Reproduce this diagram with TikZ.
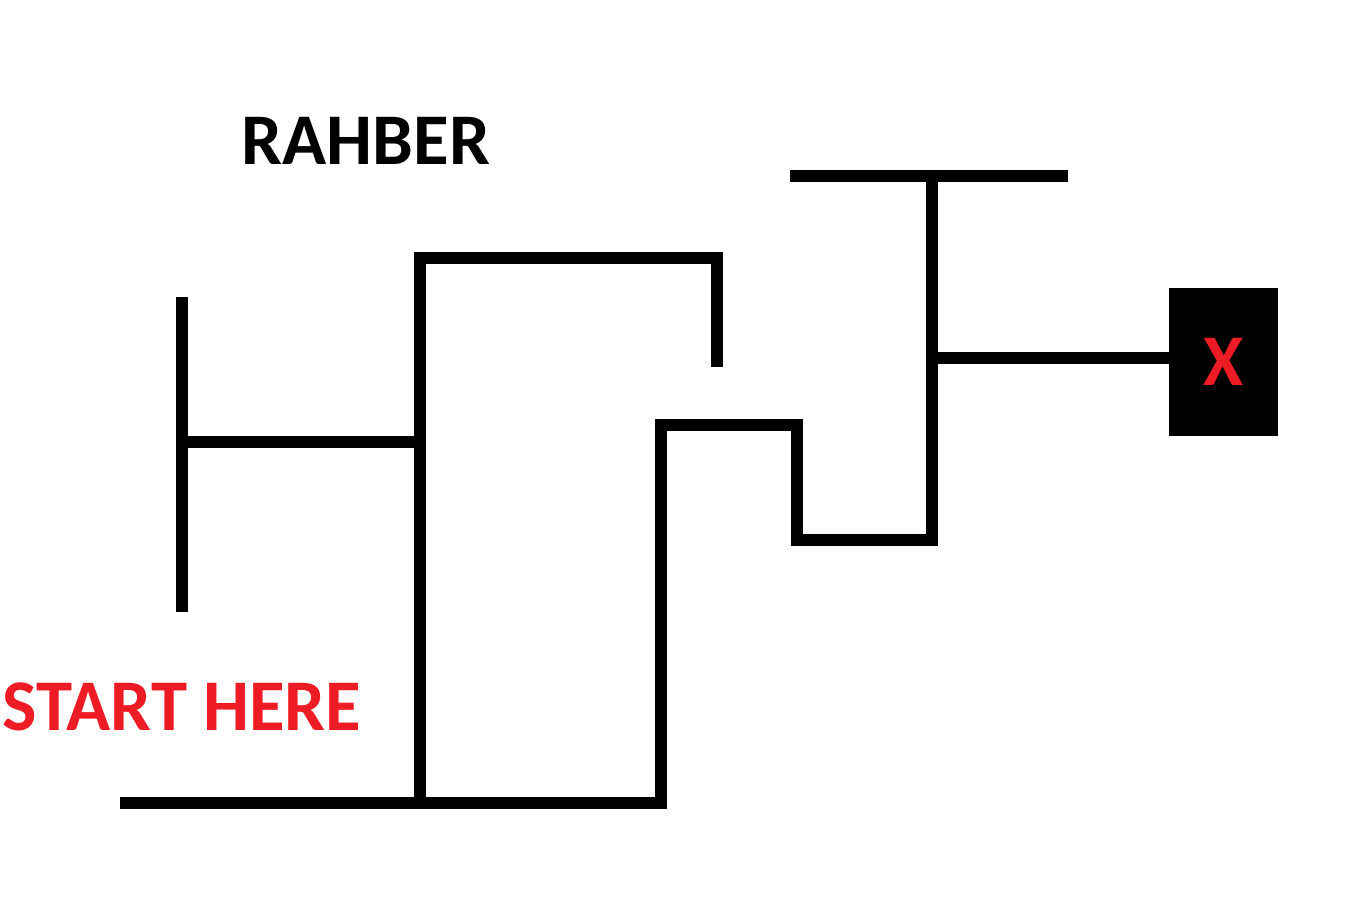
\documentclass[tikz,border=0pt]{standalone}
\usepackage{fontspec}
\setmainfont{Carlito}
\definecolor{markred}{HTML}{ED1C24}
\tikzset{
  wall/.style={
    line width = 0.12cm
  },
  goal/.style={
    draw,
    fill,
    minimum width = 1.07cm,
    minimum height = 1.46cm,
    inner sep = 0cm
  },
  every picture/.style = {
    font=\bfseries\fontsize{20.7}{21}\selectfont
  }
}
\begin{document}
\begin{tikzpicture}[x=0.01cm,y=-0.01cm]
            \useasboundingbox (0,0) rectangle (1350,900);
            % left part
            \coordinate (l1) at (182,297);
            \coordinate (l2) at (182,612);
            \coordinate (l3) at (182,442);
            \coordinate (m1) at (420,442);
            \coordinate (m2) at (420,258);
            \coordinate (m3) at (420,803);
            \coordinate (t1) at (717,258);
            \coordinate (t2) at (717,367);
            \coordinate (b1) at (120,803);
            \coordinate (b2) at (661,803);
            \coordinate (b3) at (661,425);
            \coordinate (s1) at (797,425);
            \coordinate (s2) at (797,540);
            \coordinate (s3) at (932,540);
            \coordinate (r1) at (932,176);
            \coordinate (r2) at (790,176);
            \coordinate (r3) at (1068,176);
            \coordinate (r4) at (932,358);
            \draw[wall] (l1)--(l2);
            \draw[wall] (l3)--(m1);
            \draw[wall] (m3)--(m2)--(t1)--(t2);
            \draw[wall] (b1)--(b2)--(b3)--(s1)--(s2)--(s3)--(r1);
            \draw[wall] (r2)--(r3);
            % goal
            \node[goal] (x) at (1223.5,362) {};
            \draw[wall] (r4)--(x.west |- r4);
            \node[text=markred] (xmark) at (x) {X};
            \node (rahber) at (366,141) {RAHBER};
            \node[anchor=west, text=markred, inner sep=0pt] (start) at (2,707) {START HERE};
        \end{tikzpicture}
\end{document}
